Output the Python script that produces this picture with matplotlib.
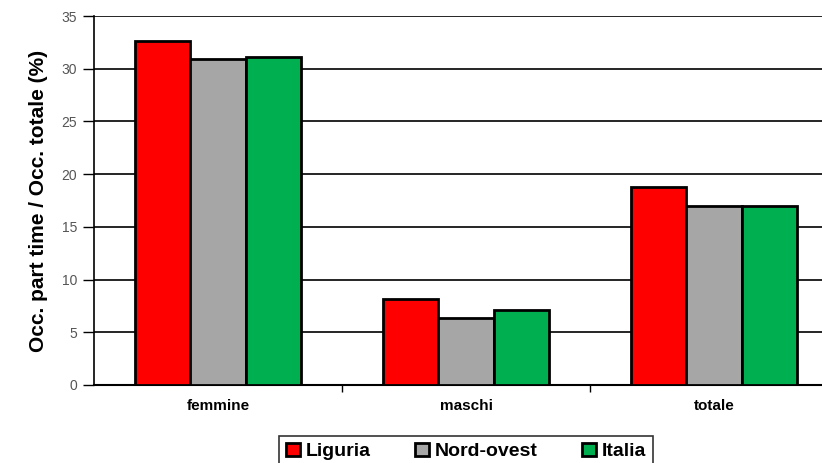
import numpy as np
import matplotlib.pyplot as plt

categorie = ['femmine', 'maschi', 'totale']
serie = ['Liguria', 'Nord-ovest', 'Italia']
liguria = [32.6, 8.2, 18.8]
nord_ovest = [30.9, 6.4, 17.0]
italia = [31.1, 7.1, 17.0]
colori = ['#ff0000', '#a6a6a6', '#00b050']

plt.rcParams['font.family'] = ['Liberation Sans', 'DejaVu Sans']

fig = plt.figure(figsize=(8.22, 4.63), dpi=100)
ax = fig.add_axes([94/822, 78/463, 744/822, 369/463])

x = np.arange(len(categorie))
w = 0.222
for i, (val, nome) in enumerate(zip([liguria, nord_ovest, italia], serie)):
    ax.bar(x + (i-1)*w, val, w, color=colori[i], edgecolor='black', linewidth=2,
           label=nome, zorder=3)

ax.set_xlim(-0.5, 2.5)
ax.set_ylim(0, 35)
ax.set_yticks(range(0, 36, 5))
ax.yaxis.grid(True, color='black', linewidth=1.2, zorder=0)
ax.tick_params(axis='y', length=8, width=1, labelsize=10, labelcolor='#555555', pad=4)
ax.set_xticks(x)
ax.set_xticklabels(categorie, fontsize=11, fontweight='bold')
ax.set_xticks([0.5, 1.5], minor=True)
ax.tick_params(axis='x', which='major', length=0, pad=10)
ax.tick_params(axis='x', which='minor', length=5, width=1)
for s in ['top', 'right']:
    ax.spines[s].set_visible(False)
ax.spines['left'].set_linewidth(1.2)
ax.spines['bottom'].set_linewidth(1.5)
ax.set_ylabel('Occ. part time / Occ. totale (%)', fontsize=15, fontweight='bold', labelpad=10)

leg = fig.legend(loc='upper center', bbox_to_anchor=(466/822, 1-436/463), ncol=3,
                 prop={'size': 14, 'weight': 'bold'}, frameon=True, fancybox=False,
                 edgecolor='black', handlelength=0.7, handleheight=0.7,
                 handletextpad=0.3, columnspacing=2.3, borderpad=0.35,
                 borderaxespad=0)
leg.get_frame().set_linewidth(1.2)

fig.savefig('out.png', dpi=100)
